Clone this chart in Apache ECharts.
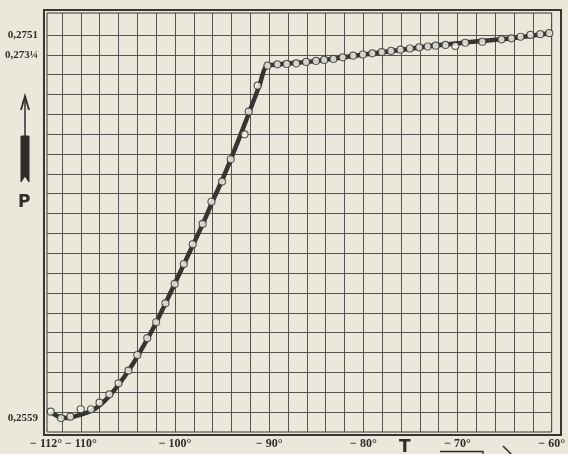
<!DOCTYPE html>
<html><head><meta charset="utf-8">
<script src="https://cdn.jsdelivr.net/npm/echarts@6/dist/echarts.min.js"></script>
<style>html,body{margin:0;padding:0;background:#ebe7da}#c{width:568px;height:454px}</style>
</head><body><div id="c"></div>
<script>
// Drawn (fitted) curve: temperature T (°C) and pressure P
const curveT = [-113.17,-112.43,-111.59,-110.65,-109.60,-108.55,-107.50,-106.45,-105.40,-104.35,-103.30,-102.25,-101.20,-100.15,-99.10,-98.05,-97.00,-95.95,-94.90,-93.85,-92.80,-91.75,-91.02,-90.28,-89.13,-84.93,-80.73,-76.53,-72.33,-68.13,-63.94,-60.05];
const curveP = [0.25620,0.25598,0.25590,0.25598,0.25613,0.25635,0.25675,0.25730,0.25796,0.25871,0.25956,0.26046,0.26147,0.26252,0.26357,0.26462,0.26568,0.26683,0.26793,0.26914,0.27039,0.27169,0.27259,0.27355,0.27362,0.27380,0.27407,0.27432,0.27457,0.27477,0.27495,0.27520];
// Observed points
const pointT = [-113.20,-112.11,-111.12,-110.02,-108.93,-108.02,-106.97,-106.00,-104.95,-104.00,-102.95,-102.01,-101.02,-100.04,-99.07,-98.12,-97.07,-96.13,-95.01,-94.09,-92.62,-92.17,-91.23,-90.18,-89.13,-88.15,-87.13,-86.08,-85.03,-84.16,-83.18,-82.20,-81.08,-80.05,-79.05,-78.05,-77.06,-76.06,-75.06,-74.07,-73.17,-72.33,-71.28,-70.23,-69.18,-67.37,-65.33,-64.28,-63.31,-62.26,-61.21,-60.26];
const pointP = [0.25622,0.25590,0.25597,0.25634,0.25634,0.25667,0.25709,0.25764,0.25828,0.25906,0.25990,0.26070,0.26165,0.26262,0.26362,0.26461,0.26563,0.26674,0.26775,0.26887,0.27012,0.27126,0.27256,0.27356,0.27363,0.27365,0.27368,0.27375,0.27380,0.27385,0.27390,0.27398,0.27406,0.27412,0.27418,0.27424,0.27430,0.27436,0.27442,0.27448,0.27452,0.27456,0.27460,0.27455,0.27471,0.27476,0.27488,0.27493,0.27501,0.27510,0.27514,0.27519];
// Tick labels
const xLabelValues = [-112,-110,-100,-90,-80,-70,-60];
const yLabelValues = [0.2751,0.2741,0.2559];
const yLabelTexts = ['0,2751','0,273¼','0,2559'];

const xGrid = []; for (let v = -112; v <= -62; v += 2) xGrid.push(v);
const yGrid = []; for (let k = 0; k < 20; k++) yGrid.push(+(0.2751 - k*0.0009946).toFixed(6));

const ink = '#363531';
const chart = echarts.init(document.getElementById('c'));
chart.setOption({
  backgroundColor: '#ebe7da',
  animation: false,
  grid: [
    {left:47, right:10, top:13, bottom:22, show:true, borderColor:ink, borderWidth:1, backgroundColor:'transparent'},
    {left:44, right:7, top:10, bottom:19, show:true, borderColor:ink, borderWidth:2, backgroundColor:'transparent'}
  ],
  xAxis: [
    {type:'value', gridIndex:0, min:-113.6, max:-60,
     axisLine:{show:false}, axisTick:{show:false, customValues:xGrid},
     splitLine:{show:true, lineStyle:{color:'#55544e', width:1}},
     axisLabel:{customValues:xLabelValues, hideOverlap:false, interval:0, showMinLabel:true, showMaxLabel:true,
       alignMinLabel:'right',
       margin:6, color:'#2e2d2a', fontFamily:'Liberation Serif', fontWeight:'bold', fontSize:12,
       formatter: v => '\u2212 ' + Math.abs(v) + '°'}},
    {type:'value', gridIndex:1, show:false, min:0, max:1}
  ],
  yAxis: [
    {type:'value', gridIndex:0, min:0.2552, max:0.2762,
     axisLine:{show:false}, axisTick:{show:false, customValues:yGrid},
     splitLine:{show:true, lineStyle:{color:'#55544e', width:1}},
     axisLabel:{customValues:yLabelValues, hideOverlap:false, interval:0, margin:9, color:'#2e2d2a', fontFamily:'Liberation Serif', fontWeight:'bold', fontSize:11,
       formatter: v => { const i = yLabelValues.findIndex(x => Math.abs(x - v) < 1e-6); return i >= 0 ? yLabelTexts[i] : ''; }}},
    {type:'value', gridIndex:1, show:false, min:0, max:1}
  ],
  series: [
    {type:'line', xAxisIndex:0, yAxisIndex:0, data: curveT.map((t,i)=>[t,curveP[i]]), showSymbol:false, smooth:0.3,
     lineStyle:{color:ink, width:4.5}, z:3},
    {type:'scatter', xAxisIndex:0, yAxisIndex:0, data: pointT.map((t,i)=>[t,pointP[i]]), symbol:'circle', symbolSize:7,
     itemStyle:{color:'#fbfaf4', borderColor:ink, borderWidth:1.2}, z:4}
  ],
  graphic: [
    {type:'text', left:18, top:194, style:{text:'P', font:'bold 17px "DejaVu Sans"', fill:'#2e2d2a'}},
    {type:'line', shape:{x1:25, y1:98, x2:25, y2:136}, style:{stroke:'#2e2d2a', lineWidth:1.5}},
    {type:'polyline', shape:{points:[[21,110],[25,96],[29,110]]}, style:{stroke:'#2e2d2a', lineWidth:1.8, fill:null}},
    {type:'polygon', shape:{points:[[21,136],[29,136],[29,182],[25,176],[21,182]]}, style:{fill:'#2e2d2a', stroke:'#2e2d2a', lineWidth:1}},
    {type:'text', left:399, top:439, style:{text:'T', font:'bold 17px "DejaVu Sans"', fill:'#2e2d2a'}},
    {type:'polyline', shape:{points:[[440,451.5],[483,451.5],[483,456]]}, style:{stroke:'#2e2d2a', lineWidth:1.3, fill:null}},
    {type:'line', shape:{x1:503, y1:446, x2:512, y2:455}, style:{stroke:'#2e2d2a', lineWidth:1.5}}
  ]
});
</script></body></html>
